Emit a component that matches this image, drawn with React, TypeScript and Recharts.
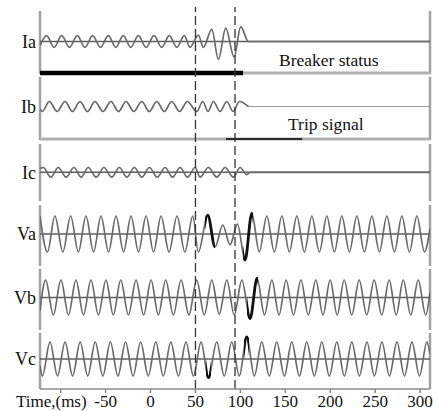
import React from 'react';
import { LineChart, Line, XAxis, YAxis, ReferenceLine } from 'recharts';

const T_START = -123;
const T_END = 311;
const timeTicks = [-100, -50, 0, 50, 100, 150, 200, 250, 300];
const eventTimes = [50, 94];

// extremes of each trace: [time ms, value pu]
const ia: [number, number][] = [
  [-123, -0.7], [-115.6, 1], [-107.3, -1], [-98.9, 1], [-90.2, -1], [-81.5, 1], [-73, -1],
  [-64.4, 1], [-55.7, -1], [-47, 1], [-38.7, -1], [-30.3, 1], [-22, -1], [-13.6, 1],
  [-4.9, -1], [3.9, 1], [12.4, -1], [20.9, 1], [29.3, -1], [37.6, 1], [44, -1],
  [53.2, 1.1], [58.8, -1], [68.2, 2.1], [75.5, -3.1], [83.7, 2.3], [93, -2.7],
  [100.4, 2.55], [108.9, 0], [311, 0],
];
const ib: [number, number][] = [
  [-123, -0.5], [-120.5, -1], [-112.7, 1], [-103.9, -1], [-95.2, 1], [-86.9, -1], [-78.5, 1],
  [-70.2, -1], [-61.8, 1], [-52.9, -1], [-44, 1], [-35.6, -1], [-27.3, 1], [-18.6, -1],
  [-9.8, 1], [-1.4, -1], [6.9, 1], [15.3, -1], [23.6, 1], [32.3, -1], [41, 1],
  [51.4, -1], [58.1, 1], [64, -1], [69.9, 1], [77.4, -1], [84.9, 1], [91.9, -1],
  [98.9, 1], [108.9, 0],
];
const ic: [number, number][] = [
  [-123, 0.8], [-119.4, 1], [-111, -1], [-102.7, 1], [-93.9, -1], [-85.2, 1], [-77.2, -1],
  [-69.3, 1], [-60.5, -1], [-51.8, 1], [-43.2, -1], [-34.7, 1], [-26.4, -1], [-18, 1],
  [-9.7, -1], [-1.3, 1], [7.5, -1], [16.1, 1], [24.5, -1], [32.9, 1], [41.2, -1],
  [49.6, 1], [55.1, -1], [64.4, 1], [73.7, -1], [83, 1], [92.2, -1], [99.7, 1],
  [107.1, -0.5], [110.8, 0], [311, 0],
];
const va: [number, number][] = [
  [-123, 1], [-114.7, -1], [-106.4, 1], [-97.6, -1], [-88.9, 1], [-80.3, -1], [-71.8, 1],
  [-63.4, -1], [-55.1, 1], [-46.7, -1], [-38.4, 1], [-30, -1], [-21.7, 1], [-13.4, -1],
  [-5, 1], [3.4, -1], [11.7, 1], [20.6, -1], [29.5, 1], [38.2, -1], [47, 1],
  [53.2, -1], [63.7, 1.05], [71.8, -0.72], [80.4, 0.5], [88.5, -0.6], [96.7, 0.55],
  [105.2, -1.45], [112.7, 1.15], [121, -1], [129.4, 1], [137.8, -1], [146.1, 1],
  [154.5, -1], [162.8, 1], [171.2, -1], [179.5, 1], [187.9, -1], [196.2, 1], [204.6, -1],
  [212.9, 1], [221.3, -1], [229.6, 1], [238, -1], [246.3, 1], [254.7, -1], [263, 1],
  [271.4, -1], [279.7, 1], [288.1, -1], [296.4, 1], [304.8, -1], [311, 0.3],
];
const vb: [number, number][] = [
  [-123, -0.75], [-116.7, 1], [-108.2, -1], [-99.7, 1], [-91.3, -1], [-83, 1], [-74.6, -1],
  [-66.3, 1], [-58, -1], [-49.6, 1], [-41.4, -1], [-33.2, 1], [-24.6, -1], [-16.1, 1],
  [-7.7, -1], [0.6, 1], [8.7, -1], [16.9, 1], [25.4, -1], [34, 1], [42.7, -1],
  [51.4, 1], [59.8, -1], [68.2, 1], [76.5, -0.95], [84.9, 1], [93.2, -1], [101.6, 1],
  [110.8, -1.2], [118.6, 1.1], [126.8, -1], [135, 1], [143, -1], [150.9, 1], [159.1, -1],
  [167.3, 1], [175.6, -1], [183.9, 1], [191.9, -1], [199.9, 1], [207.7, -1], [215.5, 1],
  [223.9, -1], [232.2, 1], [240.6, -1], [248.9, 1], [257.3, -1], [265.6, 1], [273.4, -1],
  [281.2, 1], [289.6, -1], [297.9, 1], [306.2, -1], [311, 0.3],
];
const vc: [number, number][] = [
  [-123, -0.4], [-120.3, -1], [-111.9, 1], [-103.5, -1], [-95.1, 1], [-86.7, -1], [-78.3, 1],
  [-69.9, -1], [-61.5, 1], [-53.1, -1], [-44.7, 1], [-36.3, -1], [-27.8, 1], [-19.4, -1],
  [-11, 1], [-2.6, -1], [5.8, 1], [14.2, -1], [22.6, 1], [31, -1], [39.4, 1],
  [47.8, -1], [56.2, 1], [64.4, -1.1], [73.7, 1], [82, -1], [90.4, 1], [98.8, -1],
  [107.1, 1.3], [115.5, -1], [123.8, 1], [132.2, -1], [140.5, 1], [148.9, -1], [157.2, 1],
  [165.6, -1], [173.9, 1], [182.3, -1], [190.6, 1], [199, -1], [207.3, 1], [215.7, -1],
  [224, 1], [232.4, -1], [240.8, 1], [249.1, -1], [257.5, 1], [265.9, -1], [274.2, 1],
  [282.6, -1], [290.9, 1], [299.3, -1], [307.6, 1], [311, 0.3],
];

// stretches where the recorder trace is drawn dark: [from, to] in ms
const vaDark: [number, number][] = [[61, 72], [103, 114]];
const vbDark: [number, number][] = [[107, 120]];
const vcDark: [number, number][] = [[61.5, 67], [104, 110]];

// digital channels: [from, to] in ms
const breakerClosed = [T_START, 103];
const tripActive = [84, 168.7];
const ibOpenAt = 108.9;

const W = 438;
const MARGIN = { top: 0, right: 8, bottom: 0, left: 40 };
const FONT = 'Times New Roman, Liberation Serif, DejaVu Serif, serif';
const WAVE = '#6a6a6a';
const FRAME = '#a2a2a2';
const BASE = '#5e5e5e';

type PanelProps = {
  id: string;
  top: number;
  height: number;
  base: number;
  scale: number;
  points: [number, number][];
  label: string;
  showBase?: boolean;
  tail?: number;
  dark?: [number, number][];
};

function Panel({ id, top, height, base, scale, points, label, showBase = true, tail, dark = [] }: PanelProps) {
  const hi = (base - top) / scale;
  const lo = -(top + height - base) / scale;
  const data = points.map(([t, v]) => ({ t, v }));
  const span = T_END - T_START;
  const gradId = `dark-${id}`;
  return (
    <div style={{ position: 'absolute', left: 0, top }}>
      <LineChart width={W} height={height} data={data} margin={MARGIN}>
        {dark.length > 0 && (
          <defs>
            <linearGradient id={gradId} x1="0" y1="0" x2="1" y2="0">
              <stop offset="0" stopColor="#111" stopOpacity={0} />
              {dark.flatMap(([a, b], i) => {
                const fa = (a - T_START) / span;
                const fb = (b - T_START) / span;
                return [
                  <stop key={`${i}a0`} offset={fa} stopColor="#111" stopOpacity={0} />,
                  <stop key={`${i}a1`} offset={fa} stopColor="#111" stopOpacity={1} />,
                  <stop key={`${i}b1`} offset={fb} stopColor="#111" stopOpacity={1} />,
                  <stop key={`${i}b0`} offset={fb} stopColor="#111" stopOpacity={0} />,
                ];
              })}
              <stop offset="1" stopColor="#111" stopOpacity={0} />
            </linearGradient>
          </defs>
        )}
        <XAxis type="number" dataKey="t" domain={[T_START, T_END]} hide allowDataOverflow />
        <YAxis type="number" domain={[lo, hi]} hide allowDataOverflow />
        <ReferenceLine x={T_START} stroke={FRAME} strokeWidth={2.5} />
        <ReferenceLine x={T_END} stroke={FRAME} strokeWidth={2.5} />
        <ReferenceLine
          y={0}
          stroke={showBase ? BASE : 'none'}
          strokeWidth={1.5}
          label={{ value: label, position: 'left', offset: 4, fill: '#111', fontSize: 18, fontFamily: FONT }}
        />
        {tail !== undefined && (
          <ReferenceLine segment={[{ x: tail, y: 0 }, { x: T_END, y: 0 }]} stroke="#9a9a9a" strokeWidth={1} />
        )}
        <Line dataKey="v" type="monotone" stroke={WAVE} strokeWidth={1.7} dot={false} isAnimationActive={false} />
        {dark.length > 0 && (
          <Line dataKey="v" type="monotone" stroke={`url(#${gradId})`} strokeWidth={2.8} dot={false} isAnimationActive={false} />
        )}
      </LineChart>
    </div>
  );
}

function Status({ center, span, color, width }: { center: number; span: number[]; color: string; width: number }) {
  const data = span.map((t) => ({ t, s: 1 }));
  return (
    <div style={{ position: 'absolute', left: 0, top: center - 5 }}>
      <LineChart width={W} height={10} data={data} margin={MARGIN}>
        <XAxis type="number" dataKey="t" domain={[T_START, T_END]} hide allowDataOverflow />
        <YAxis type="number" domain={[0, 2]} hide />
        <ReferenceLine y={1} stroke="#b0b0b0" strokeWidth={3.2} />
        <Line dataKey="s" stroke={color} strokeWidth={width} dot={false} isAnimationActive={false} />
      </LineChart>
    </div>
  );
}

const textStyle = { position: 'absolute' as const, fontFamily: FONT, fontSize: 17.5, color: '#111', lineHeight: 1 };

function TimeTick(props: any) {
  const { x, y, payload } = props;
  const isTitle = payload.value === -100;
  return (
    <text
      x={isTitle ? x + 26 : x}
      y={y}
      dy="0.71em"
      textAnchor={isTitle ? 'end' : 'middle'}
      fill="#111"
      fontSize={17}
      fontFamily={FONT}
    >
      {isTitle ? 'Time,(ms)' : payload.value}
    </text>
  );
}

const axisData = [{ t: T_START, y: 0 }, { t: T_END, y: 1 }];

export default function App() {
  return (
    <div style={{ position: 'absolute', left: 0, top: 0, width: W, height: 411, background: '#fff', overflow: 'hidden' }}>
      <Panel id="ia" top={11} height={63} base={41.5} scale={5.8} points={ia} label="Ia" />
      <Status center={72.5} span={breakerClosed} color="#000" width={4.3} />
      <Panel id="ib" top={77} height={63} base={106.5} scale={5} points={ib} label="Ib" showBase={false} tail={ibOpenAt} />
      <Status center={138.5} span={tripActive} color="#2a2a2a" width={2.2} />
      <Panel id="ic" top={144} height={57} base={172.3} scale={4.8} points={ic} label="Ic" />
      <Panel id="va" top={205} height={61} base={234} scale={18} points={va} label="Va" dark={vaDark} />
      <Panel id="vb" top={269} height={61} base={297.5} scale={17.5} points={vb} label="Vb" dark={vbDark} />
      <Panel id="vc" top={333} height={56} base={359} scale={17} points={vc} label="Vc" dark={vcDark} />

      <div style={{ ...textStyle, left: 279, top: 52 }}>Breaker status</div>
      <div style={{ ...textStyle, left: 288, top: 116 }}>Trip signal</div>

      <div style={{ position: 'absolute', left: 0, top: 0 }}>
        <LineChart width={W} height={411} data={axisData} margin={{ top: 7, right: 8, bottom: 0, left: 40 }}>
          <XAxis
            type="number"
            dataKey="t"
            domain={[T_START, T_END]}
            ticks={timeTicks}
            interval={0}
            height={22}
            allowDataOverflow
            stroke="#8a8a8a"
            strokeWidth={1.5}
            tickSize={4}
            tickMargin={2}
            tick={<TimeTick />}
          />
          <YAxis hide type="number" dataKey="y" domain={[0, 1]} />
          {eventTimes.map((t) => (
            <ReferenceLine key={t} x={t} stroke="#333" strokeWidth={1.3} strokeDasharray="9 4" />
          ))}
        </LineChart>
      </div>
    </div>
  );
}
